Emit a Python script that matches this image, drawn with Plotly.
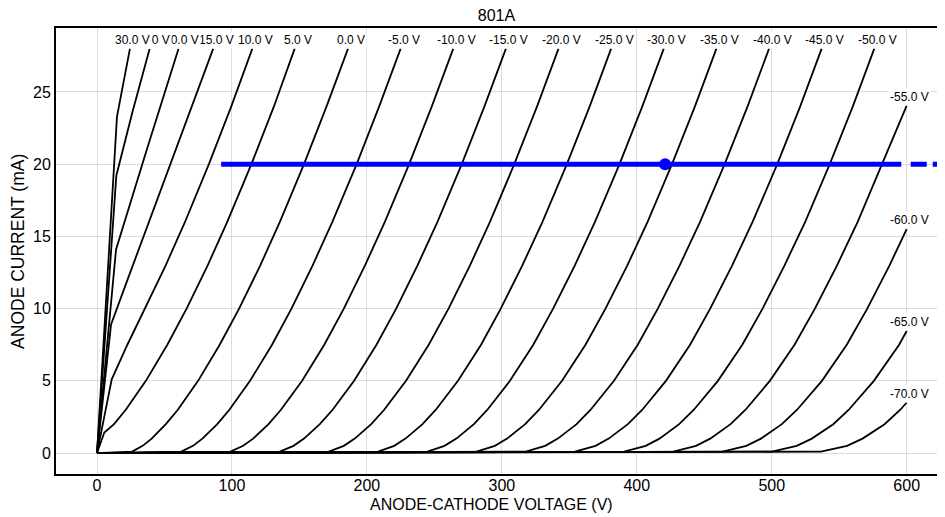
import plotly.graph_objects as go

# ---------------- data ----------------
# anode current levels (mA) shared by the negative-grid curves
ia_levels = [0.1, 0.5, 1, 2, 3, 5, 7.5, 10, 13, 16, 20, 24, 28]

# anode voltage (V) at each current level, per grid voltage
va_g0 = [26.0, 33.8, 40.5, 51.0, 59.9, 74.9, 90.9, 105.3, 121.0, 135.5, 153.4, 170.1, 186.0]
va_gm5 = [62.4, 71.1, 78.1, 89.1, 98.1, 113.4, 129.7, 144.1, 159.8, 174.4, 192.4, 209.1, 225.0]
va_gm10 = [98.9, 108.3, 115.7, 127.1, 136.3, 152.0, 168.4, 182.9, 198.6, 213.3, 231.3, 248.1, 264.0]
va_gm15 = [135.4, 145.6, 153.4, 165.1, 174.6, 190.5, 207.1, 221.7, 237.5, 252.3, 270.3, 287.1, 303.0]
va_gm20 = [171.8, 182.9, 191.0, 203.2, 212.8, 229.0, 245.8, 260.5, 276.4, 291.2, 309.2, 326.1, 342.0]
va_gm25 = [208.3, 220.2, 228.6, 241.2, 251.1, 267.5, 284.6, 299.2, 315.2, 330.1, 348.2, 365.1, 381.0]
va_gm30 = [244.8, 257.5, 266.3, 279.3, 289.3, 306.0, 323.3, 338.0, 354.1, 369.0, 387.2, 404.1, 420.0]
va_gm35 = [281.3, 294.8, 303.9, 317.3, 327.6, 344.6, 362.0, 376.8, 393.0, 408.0, 426.1, 443.1, 459.0]
va_gm40 = [317.7, 332.1, 341.5, 355.4, 365.8, 383.1, 400.7, 415.6, 431.8, 446.9, 465.1, 482.1, 498.0]
va_gm45 = [354.2, 369.4, 379.2, 393.4, 404.1, 421.6, 439.5, 454.4, 470.7, 485.8, 504.1, 521.1, 537.0]
va_gm50 = [390.6, 406.6, 416.8, 431.4, 442.3, 460.1, 478.2, 493.2, 509.5, 524.8, 543.0, 560.1, 576.0]
# curves that leave the chart at 600 V
va_gm55 = [427.1, 443.9, 454.4, 469.5, 480.6, 498.6, 516.9, 532.0, 548.4, 563.7, 582.0, 600.0]
ia_gm55 = [0.1, 0.5, 1, 2, 3, 5, 7.5, 10, 13, 16, 20, 24.05]
va_gm60 = [463.6, 481.2, 492.0, 507.5, 518.8, 537.2, 555.6, 570.8, 587.3, 600.0]
ia_gm60 = [0.1, 0.5, 1, 2, 3, 5, 7.5, 10, 13, 15.5]
va_gm65 = [500.1, 518.5, 529.7, 545.6, 557.1, 575.7, 594.4, 600.0]
ia_gm65 = [0.1, 0.5, 1, 2, 3, 5, 7.5, 8.45]
va_gm70 = [536.5, 555.8, 567.3, 583.6, 595.3, 600.0]
ia_gm70 = [0.1, 0.5, 1, 2, 3, 3.5]

# positive grid voltages (grid-current limited start)
va_g5 = [0, 5.4, 12.6, 21.3, 36.2, 52.1, 66.4, 82.0, 96.5, 114.4, 131.1, 146.5]
ia_g5 = [0, 1.42, 2, 3, 5, 7.5, 10, 13, 16, 20, 24, 28]
va_g10 = [0, 10.9, 22.5, 35.4, 50.9, 65.2, 82.9, 99.5, 115.1]
ia_g10 = [0, 5.1, 7.5, 10, 13, 16, 20, 24, 28]
va_g15 = [0, 10.4, 21.8, 33.3, 46.6, 60.0, 73.1, 86.1]
ia_g15 = [0, 8.9, 11.8, 14.7, 18.0, 21.4, 24.7, 28]
va_g20 = [0, 14.1, 37.2, 60.4]
ia_g20 = [0, 14.1, 21.1, 28]
va_g25 = [0, 14.3, 26.5, 39.0]
ia_g25 = [0, 19.2, 23.7, 28]
va_g30 = [0, 14.8, 24.4]
ia_g30 = [0, 23.3, 28]

grid_labels = ["30.0 V", "25.0 V", "20.0 V", "15.0 V", "10.0 V", "5.0 V", "0.0 V",
               "-5.0 V", "-10.0 V", "-15.0 V", "-20.0 V", "-25.0 V", "-30.0 V",
               "-35.0 V", "-40.0 V", "-45.0 V", "-50.0 V", "-55.0 V", "-60.0 V",
               "-65.0 V", "-70.0 V"]

# operating point / load line
load_va = [92, 596]
load_ia = [20, 20]
load_ext_va = [603, 650]
op_va = [421]
op_ia = [20]

x_ticks = [0, 100, 200, 300, 400, 500, 600]
y_ticks = [0, 5, 10, 15, 20, 25]

# ---------------- build curves ----------------
curves = [
    (va_g30, ia_g30), (va_g25, ia_g25), (va_g20, ia_g20), (va_g15, ia_g15),
    (va_g10, ia_g10), (va_g5, ia_g5),
    ([0] + va_g0, [0] + ia_levels), ([0] + va_gm5, [0] + ia_levels),
    ([0] + va_gm10, [0] + ia_levels), ([0] + va_gm15, [0] + ia_levels),
    ([0] + va_gm20, [0] + ia_levels), ([0] + va_gm25, [0] + ia_levels),
    ([0] + va_gm30, [0] + ia_levels), ([0] + va_gm35, [0] + ia_levels),
    ([0] + va_gm40, [0] + ia_levels), ([0] + va_gm45, [0] + ia_levels),
    ([0] + va_gm50, [0] + ia_levels),
    ([0] + va_gm55, [0] + ia_gm55), ([0] + va_gm60, [0] + ia_gm60),
    ([0] + va_gm65, [0] + ia_gm65), ([0] + va_gm70, [0] + ia_gm70),
]

FONT = "Liberation Sans, Arial, Helvetica, sans-serif"
fig = go.Figure()
for xs, ys in curves:
    fig.add_trace(go.Scatter(x=xs, y=ys, mode="lines",
                             line=dict(color="black", width=1.8),
                             hoverinfo="skip", showlegend=False))

fig.add_trace(go.Scatter(x=load_va, y=load_ia, mode="lines",
                         line=dict(color="#0000ff", width=5),
                         hoverinfo="skip", showlegend=False))
fig.add_trace(go.Scatter(x=load_ext_va, y=[20, 20], mode="lines",
                         line=dict(color="#0000ff", width=5, dash="16px,6px"),
                         hoverinfo="skip", showlegend=False))
fig.add_trace(go.Scatter(x=op_va, y=op_ia, mode="markers",
                         marker=dict(color="#0000ff", size=12),
                         hoverinfo="skip", showlegend=False))

annotations = []
# draw from most negative to most positive so the latter sit on top
for (xs, ys), lab in reversed(list(zip(curves, grid_labels))):
    annotations.append(dict(x=xs[-1], y=ys[-1], xref="x", yref="y", text=lab,
                            showarrow=False, xanchor="center", yanchor="bottom",
                            xshift=3, yshift=0, bgcolor="white", borderpad=1,
                            font=dict(size=12, color="black", family=FONT)))

annotations.append(dict(x=(491 - 56) / 889, y=-0.0695, xref="paper", yref="paper",
                        text="ANODE-CATHODE VOLTAGE (V)", showarrow=False,
                        xanchor="center", yanchor="middle",
                        font=dict(size=16, color="black", family=FONT)))
annotations.append(dict(x=(18 - 56) / 889, y=0.498, xref="paper", yref="paper",
                        text="ANODE CURRENT (mA)", showarrow=False, textangle=-90,
                        xanchor="center", yanchor="middle",
                        font=dict(size=17.5, color="black", family=FONT)))

# the page body adds an 8 px offset, so the figure is 8 px smaller each way
fig.update_layout(
    width=937, height=509,
    margin=dict(l=48, r=0, t=20, b=43),
    paper_bgcolor="white", plot_bgcolor="white",
    font=dict(family=FONT, size=16, color="black"),
    title=dict(text="801A", x=488.5 / 937, xanchor="center", y=1 - 7.5 / 509,
               yanchor="middle", font=dict(size=16, color="black", family=FONT)),
    annotations=annotations,
    xaxis=dict(range=[-30.4, 628.4], tickvals=x_ticks, showgrid=True,
               gridcolor="#dcdcdc", gridwidth=1, zeroline=False, showline=True,
               linecolor="black", linewidth=2, mirror=True, ticks="",
               ticklabelstandoff=-4, tickfont=dict(size=16)),
    yaxis=dict(range=[-1.45, 29.43], tickvals=y_ticks, showgrid=True,
               gridcolor="#dcdcdc", gridwidth=1, zeroline=False, showline=True,
               linecolor="black", linewidth=2, mirror=False, ticks="",
               tickfont=dict(size=16)),
)

fig.write_html("out.html")
